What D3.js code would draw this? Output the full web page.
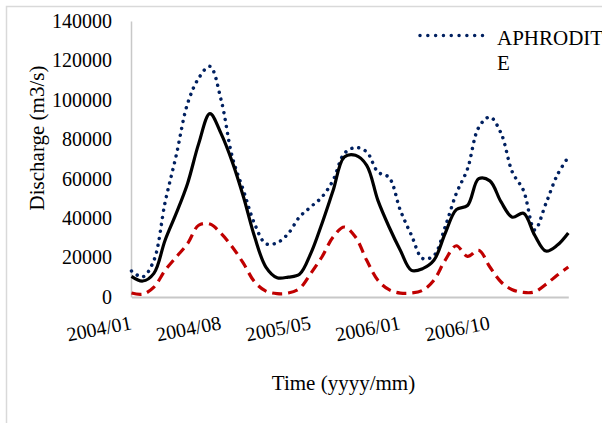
<!DOCTYPE html>
<html>
<head>
<meta charset="utf-8">
<script src="https://cdn.jsdelivr.net/npm/d3@7"></script>
<style>
  html, body { margin: 0; padding: 0; background: #fff; }
</style>
</head>
<body>
<svg id="chart" width="602" height="423"></svg>
<script>
// ---- data (m3/s), 40 monthly steps ----
const monthIndex = d3.range(40);
const tickIndex = [0, 8, 16, 24, 32];
const tickLabels = ["2004/01", "2004/08", "2005/05", "2006/01", "2006/10"];
const yTicks = [0, 20000, 40000, 60000, 80000, 100000, 120000, 140000];

const observed = [10500, 8100, 12000, 28800, 42500, 57500, 77800, 93000, 82900, 68500,
  50700, 30400, 15200, 9800, 10100, 11500, 22000, 37200, 54000, 71000,
  71900, 66800, 49000, 35500, 23700, 13500, 14400, 18600, 32200, 44300,
  46400, 60000, 58900, 48200, 40500, 42500, 31300, 23300, 26200, 32500];

const aphrodite = [13200, 10200, 18600, 48000, 72000, 98000, 111000, 117000, 100000, 71000,
  54000, 37000, 27000, 27500, 32200, 40600, 45700, 50700, 59200, 72800,
  75800, 73600, 63400, 60600, 44000, 31300, 19500, 21000, 35500, 52500,
  65000, 86000, 91300, 83000, 63400, 54000, 34000, 47400, 61700, 71000];

const simulated = [2000, 1400, 5000, 13500, 20300, 27000, 36400, 37000, 32200, 25400,
  17000, 7600, 3000, 1700, 2000, 4300, 11900, 20300, 30400, 35500,
  30400, 18600, 8500, 3700, 2000, 2000, 3400, 8500, 18600, 26000,
  20600, 23700, 15200, 7600, 3700, 2300, 2600, 6400, 11000, 15200];

const legendName = ["APHRODIT", "E"];

// ---- chart ----
const FONT = "'Liberation Serif', 'Times New Roman', serif";
const svg = d3.select("#chart");
const plot = { left: 131.5, right: 568.3, top: 21, bottom: 297 };

const x = d3.scalePoint().domain(monthIndex).range([plot.left, plot.right]);
const y = d3.scaleLinear().domain([0, 140000]).range([plot.bottom, plot.top]);

// outer chart border (partially visible)
svg.append("path")
  .attr("d", "M6.5,430 L6.5,6.5 L610,6.5")
  .attr("fill", "none").attr("stroke", "#d9d9d9").attr("stroke-width", 1.5);

// y axis
const yAxis = svg.append("g").attr("transform", `translate(${plot.left - 0.5},0)`)
  .call(d3.axisLeft(y).tickValues(yTicks).tickSize(0).tickPadding(19).tickFormat(d3.format("d")));
yAxis.attr("font-family", null).attr("font-size", null);
yAxis.select(".domain").attr("stroke", "#c8c8c8").attr("stroke-width", 1.5);
yAxis.selectAll("text")
  .style("font-family", FONT).style("font-size", "20px").attr("fill", "#000");

// x axis line
const xAxis = svg.append("g").attr("transform", `translate(0,${plot.bottom})`)
  .call(d3.axisBottom(x).tickValues([]).tickSize(0));
xAxis.select(".domain").attr("stroke", "#c8c8c8").attr("stroke-width", 2);

// x tick labels (slightly rotated)
const xl = svg.append("g");
tickIndex.forEach((d, i) => {
  xl.append("text")
    .attr("transform", `translate(${x(d) + 1},329) rotate(-11)`)
    .attr("text-anchor", "end")
    .style("font-family", FONT)
    .style("font-size", "20px")
    .attr("fill", "#000")
    .text(tickLabels[i]);
});

// smoothed lines
const line = d3.line()
  .x((d, i) => x(monthIndex[i]))
  .y((d) => y(d))
  .curve(d3.curveCatmullRom.alpha(0.5));

svg.append("path").datum(aphrodite)
  .attr("d", line).attr("fill", "none")
  .attr("stroke", "#002060").attr("stroke-width", 3.5)
  .attr("stroke-linecap", "round").attr("stroke-dasharray", "0.01,7");

svg.append("path").datum(simulated)
  .attr("d", line).attr("fill", "none")
  .attr("stroke", "#c00000").attr("stroke-width", 3.2)
  .attr("stroke-dasharray", "10,6");

svg.append("path").datum(observed)
  .attr("d", line).attr("fill", "none")
  .attr("stroke", "#000").attr("stroke-width", 3.2)
  .attr("stroke-linejoin", "round");

// axis titles
svg.append("text")
  .attr("transform", "translate(44,138) rotate(-90)")
  .attr("text-anchor", "middle")
  .style("font-family", FONT)
  .style("font-size", "21px")
  .attr("fill", "#000")
  .text("Discharge (m3/s)");

svg.append("text")
  .attr("x", 343.5).attr("y", 390)
  .attr("text-anchor", "middle")
  .style("font-family", FONT)
  .style("font-size", "21px")
  .attr("fill", "#000")
  .text("Time (yyyy/mm)");

// legend (cropped at the right edge, as in the original)
const lg = svg.append("g");
lg.append("line")
  .attr("x1", 420).attr("x2", 483).attr("y1", 35.5).attr("y2", 35.5)
  .attr("stroke", "#002060").attr("stroke-width", 3.5)
  .attr("stroke-linecap", "round").attr("stroke-dasharray", "0.01,7.8");
legendName.forEach((d, i) => {
  lg.append("text")
    .attr("x", 497).attr("y", 45 + i * 25)
    .style("font-family", FONT)
    .style("font-size", "21px")
    .attr("fill", "#000")
    .text(d);
});
</script>
</body>
</html>
